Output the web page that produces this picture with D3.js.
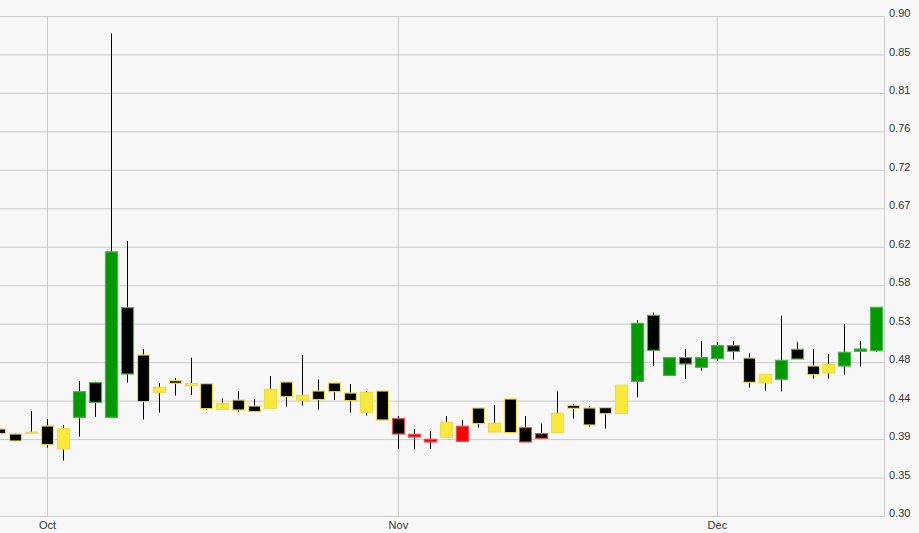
<!DOCTYPE html>
<html>
<head>
<meta charset="utf-8">
<script src="https://cdn.jsdelivr.net/npm/d3@7"></script>
<style>
  html, body { margin: 0; padding: 0; background: #f7f7f7; }
  svg { display: block; }
</style>
</head>
<body>
<svg id="chart" width="919" height="533"></svg>
<script>
// ---- data (trading days, index 0 = first trading day of October) ----
const opens  = [0.4044,0.3984,0.3994,0.4080,0.3804,0.4184,0.4600,0.4184,0.5500,0.4932,0.4484,0.4624,0.4564,0.4588,0.4280,0.4392,0.4320,0.4292,0.4608,0.4388,0.4500,0.4596,0.4476,0.4244,0.4500,0.4168,0.3948,0.3888,0.3944,0.3896,0.4296,0.4008,0.4404,0.4060,0.3988,0.4000,0.4328,0.4296,0.4300,0.4232,0.4616,0.5408,0.4688,0.4900,0.4784,0.4888,0.5044,0.4896,0.4596,0.4640,0.5000,0.4800,0.4716,0.4800,0.4976,0.4984];
const highs  = [0.4060,0.3990,0.4260,0.4164,0.4092,0.4620,0.4610,0.8792,0.6300,0.5004,0.4596,0.4656,0.4900,0.4596,0.4412,0.4500,0.4404,0.4680,0.4608,0.4932,0.4640,0.4596,0.4584,0.4500,0.4500,0.4200,0.4044,0.4020,0.4200,0.4152,0.4296,0.4332,0.4404,0.4200,0.4108,0.4492,0.4340,0.4320,0.4300,0.4568,0.5352,0.5444,0.4900,0.5004,0.5100,0.5088,0.5100,0.4952,0.4700,0.5404,0.5088,0.5004,0.4944,0.5304,0.5100,0.5504];
const lows   = [0.3980,0.3896,0.3990,0.3820,0.3664,0.3952,0.4190,0.4180,0.4600,0.4156,0.4240,0.4444,0.4452,0.4276,0.4280,0.4252,0.4252,0.4292,0.4312,0.4324,0.4276,0.4392,0.4240,0.4204,0.4152,0.3808,0.3800,0.3808,0.3944,0.3896,0.4060,0.4008,0.4000,0.3888,0.3932,0.4000,0.4168,0.4072,0.4048,0.4232,0.4424,0.4800,0.4688,0.4644,0.4744,0.4860,0.4876,0.4540,0.4504,0.4496,0.4884,0.4648,0.4648,0.4696,0.4792,0.4972];
const closes = [0.3988,0.3900,0.4006,0.3856,0.4048,0.4492,0.4364,0.6170,0.4704,0.4372,0.4544,0.4592,0.4588,0.4288,0.4352,0.4272,0.4252,0.4520,0.4432,0.4448,0.4396,0.4492,0.4384,0.4484,0.4152,0.3984,0.3980,0.3920,0.4124,0.4076,0.4108,0.4112,0.4000,0.3888,0.3932,0.4232,0.4292,0.4092,0.4228,0.4568,0.5312,0.4988,0.4900,0.4824,0.4900,0.5044,0.4976,0.4604,0.4700,0.4868,0.4884,0.4696,0.4820,0.4964,0.5004,0.5504];
// signal category of each candle: g = strong, y = neutral, r = weak
const signals = ["y","y","y","y","y","g","g","g","g","y","y","y","y","y","y","y","y","y","y","y","y","y","y","y","y","r","r","r","y","r","y","y","y","r","r","y","y","y","y","y","g","g","g","g","g","g","g","y","y","g","g","y","y","g","g","g"];
const firstDayOffset = -3; // first candle is 3 trading days before October
const months = ["Oct", "Nov", "Dec"];
const monthStartDay = [0, 22, 42];
const yTickLabels = ["0.30","0.35","0.39","0.44","0.48","0.53","0.58","0.62","0.67","0.72","0.76","0.81","0.85","0.90"];
const yMin = 0.30, yMax = 0.90;

// ---- layout ----
const W = 919, H = 533;
const plotLeft = 0, plotRight = 884, plotTop = 16, plotBottom = 516;

const candles = opens.map((o, i) => ({
  day: i + firstDayOffset, open: o, high: highs[i], low: lows[i], close: closes[i], signal: signals[i]
}));

const x = d3.scaleLinear().domain([-2.947, 52.48]).range([plotLeft, plotRight]);
const y = d3.scaleLinear().domain([yMin, yMax]).range([plotBottom, plotTop]);
const yTicks = yTickLabels.map((_, k) => yMin + k * (yMax - yMin) / (yTickLabels.length - 1));

const fillColor = d3.scaleOrdinal().domain(["g","y","r"]).range(["#009a00", "#fbe83c", "#ff0000"]);
const edgeColor = d3.scaleOrdinal().domain(["g","y","r"]).range(["#45b545", "#eedc45", "#f24a4a"]);

const svg = d3.select("#chart");
svg.append("rect").attr("width", W).attr("height", H).attr("fill", "#f7f7f7");

// Y axis on the right with horizontal gridlines
const yAxis = d3.axisRight(y)
  .tickValues(yTicks)
  .tickFormat((d, k) => yTickLabels[k])
  .tickSize(-(plotRight - plotLeft))
  .tickSizeOuter(0)
  .tickPadding(5);
const gy = svg.append("g").attr("transform", `translate(${plotRight},0)`).call(yAxis);
gy.selectAll(".tick line").attr("stroke", "#cbcbcb");
gy.select(".domain").attr("stroke", "#cbcbcb");
gy.selectAll(".tick text")
  .attr("dy", "0.05em")
  .attr("fill", "#333")
  .style("font-family", "'Liberation Sans', Arial, sans-serif")
  .style("font-size", "11px");

// X axis with month gridlines
const xAxis = d3.axisBottom(x)
  .tickValues(monthStartDay)
  .tickFormat((d, k) => months[k])
  .tickSize(-(plotBottom - plotTop))
  .tickSizeOuter(0)
  .tickPadding(5);
const gx = svg.append("g").attr("transform", `translate(0,${plotBottom})`).call(xAxis);
gx.selectAll(".tick line").attr("stroke", "#cbcbcb");
gx.select(".domain").attr("stroke", "#cbcbcb");
gx.selectAll(".tick text")
  .attr("fill", "#333")
  .style("font-family", "'Liberation Sans', Arial, sans-serif")
  .style("font-size", "11px");

// candles
const plot = svg.append("g");
const bodyW = 12;
const cx = d => Math.round(x(d.day));

plot.selectAll("line.wick").data(candles).join("line")
  .attr("class", "wick")
  .attr("x1", d => cx(d) + 0.5).attr("x2", d => cx(d) + 0.5)
  .attr("y1", d => y(d.high)).attr("y2", d => y(d.low))
  .attr("stroke", "#000").attr("stroke-width", 1);

plot.selectAll("rect.body").data(candles).join("rect")
  .attr("class", "body")
  .attr("x", d => cx(d) - bodyW / 2 + 0.5)
  .attr("width", bodyW)
  .attr("y", d => y(Math.max(d.open, d.close)))
  .attr("height", d => Math.max(1, Math.abs(y(d.open) - y(d.close))))
  .attr("fill", d => d.close >= d.open ? fillColor(d.signal) : "#000")
  .attr("stroke", d => edgeColor(d.signal))
  .attr("stroke-width", 1.2);
</script>
</body>
</html>
